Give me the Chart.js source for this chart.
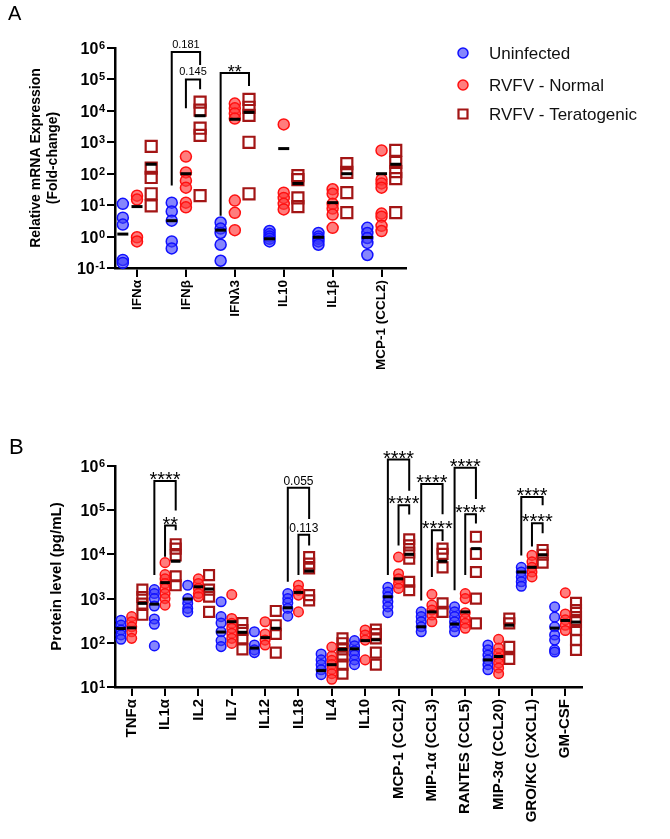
<!DOCTYPE html>
<html><head><meta charset="utf-8">
<script src="https://cdn.jsdelivr.net/npm/chart.js@4.4.0/dist/chart.umd.min.js"></script>
<style>
html,body{margin:0;padding:0;background:#fff;width:670px;height:839px;overflow:hidden}
#ca{position:absolute;left:0;top:0}
#cb{position:absolute;left:0;top:420px}
</style></head><body>
<canvas id="ca" width="670" height="420" style="width:670px;height:420px"></canvas>
<canvas id="cb" width="670" height="419" style="width:670px;height:419px"></canvas>
<script>
// ---------------- Panel A data (mRNA fold-change) ----------------
const catsA = ['IFNα','IFNβ','IFNλ3','IL10','IL1β','MCP-1 (CCL2)'];
const uninfA = [[11,4,2.4,0.18,0.145],[12,6.3,3.2,0.7,0.42],[2.8,1.8,1.3,0.55,0.17],[1.5,1.2,1.0,0.85,0.7],[1.3,1.0,0.85,0.7,0.55],[1.9,1.3,0.9,0.63,0.26]];
const uninfMedA = [1.2,3.2,1.6,0.85,0.95,0.94];
const normalA = [[20,15,0.95,0.7],[350,110,60,36,12,8.5],[17000,12000,8300,5700,14,5.7,1.6],[3700,25,17,11,7.3],[32,23,11,7.8,5,1.9],[550,65,49,36,5.4,4.3,2.2,1.5]];
const normalMedA = [9,100,5400,630,12,100];
const teratoA = [[740,150,76,23,9.5],[19000,10500,2800,1650,20],[23000,13000,7200,1000,23],[87,65,17,9],[210,110,25,5.8],[550,230,117,70,5.8]];
const teratoMedA = [200,7000,9000,49,100,200];
const yExpA = [-1,0,1,2,3,4,5,6];
// brackets: category, group from, group to, top, left-leg end, right-leg end, label
const bracketsA = [
  [1,0,2,7.4e5,42,2.9e5,'0.181'],
  [1,1,2,1.0e5,1.2e4,4.9e4,'0.145'],
  [2,0,2,1.6e5,4.6,6.2e4,'**']
];

// ---------------- Panel B data (protein pg/mL) ----------------
const catsB = ['TNFα','IL1α','IL2','IL7','IL12','IL18','IL4','IL10','MCP-1 (CCL2)','MIP-1α (CCL3)','RANTES (CCL5)','MIP-3α (CCL20)','GRO/KC (CXCL1)','GM-CSF'];
const uninfB = [[324,251,195,151,120],[1600,1300,1000,680,345,262,85],[2000,1000,780,600,500],[850,390,280,178,112,82],[178,89,69,60],[1300,1000,800,600,400],[56,41,32,24.5,19],[112,85,66,53,41,32],[1800,1400,1100,850,650,480],[500,390,300,230,178],[650,500,390,300,230,178],[89,69,53,41,32,24.5],[5100,4000,3100,2400,1900],[650,380,230,150,115,69,62]];
const uninfMedB = [210,750,980,175,76,620,23.5,73,1100,230,265,41,4000,215];
const normalB = [[390,300,230,178,126],[6500,3500,2800,2200,1700,1300,1000,710],[2800,2200,1700,1300,1100],[1230,355,275,213,163,126,97],[300,158,115,89],[2000,1550,1200,500],[80,50,40,32,25,20,15],[195,150,115,41],[8700,3650,2800,2200,1700],[1250,710,550,425,300],[1300,1000,480,355,275,213],[120,76,58,45,35,27,20],[9500,6800,5100,4000,3100],[1350,450,330,250,190]];
const normalMedB = [218,2300,1850,300,131,1380,32,112,2800,500,500,49,5100,320];
const teratoB = [[1600,1090,770,430],[17000,13500,9500,3200,2000],[3400,1600,1100,500],[280,195,126,71],[525,250,158,60],[8700,6200,4800,1200,910],[126,98,71,49,32,20],[200,158,126,60,32],[22000,16000,11000,8000,2400,1550],[13500,10300,5100,780,500],[25000,10300,4000,1000,275],[355,275,81,43],[12600,9800,6500],[800,550,380,295,195,115,69]];
const teratoMedB = [780,7000,1650,173,213,4200,71,117,10000,7000,13500,250,9800,295];
const yExpB = [1,2,3,4,5,6];
const bracketsB = [
  [1,0,2,4.6e5,3400,9.8e4,'****'],
  [1,1,2,4.5e4,8900,3.5e4,'**'],
  [5,0,2,3.2e5,2400,6.3e4,'0.055'],
  [5,1,2,2.8e4,3400,1.6e4,'0.113'],
  [8,0,2,1.4e6,3400,2.75e5,'****'],
  [8,1,2,1.3e5,1.6e4,8.0e4,'****'],
  [9,0,2,3.9e5,910,8.1e4,'****'],
  [9,1,2,3.5e4,3100,2.0e4,'****'],
  [10,0,2,9.1e5,1550,1.8e5,'****'],
  [10,1,2,8.1e4,3400,5.0e4,'****'],
  [12,0,2,2.0e5,9500,1.3e5,'****'],
  [12,1,2,5.1e4,1.5e4,3.0e4,'****']
];

const legendLabels = ['Uninfected','RVFV - Normal','RVFV - Teratogenic'];

// ---------------- rendering ----------------
const FONT = "'Liberation Sans', Arial, Helvetica, sans-serif";
Chart.defaults.font.family = FONT;
Chart.defaults.color = '#000';

const styles = [
  {ps:'circle', bg:'rgba(60,60,250,0.62)', bc:'#1010ff', bw:1.5},
  {ps:'circle', bg:'rgba(255,55,55,0.65)', bc:'#ff1010', bw:1.5},
  {ps:'rect', bg:'rgba(255,255,255,0)', bc:'#a31515', bw:2.2}
];

function makeDatasets(groups, meds, offs, rC, rR, rM) {
  const ds = [];
  const medPts = [];
  meds.forEach((arr, g) => arr.forEach((v, i) => medPts.push({x: i + offs[g], y: v})));
  ds.push({data: medPts, pointStyle:'line', pointRadius: rM, pointBorderWidth: 3,
    pointBorderColor:'#000', pointBackgroundColor:'#000', showLine:false, clip:false});
  groups.forEach((arr, g) => {
    const pts = [];
    arr.forEach((vals, i) => vals.forEach(v => pts.push({x: i + offs[g], y: v})));
    const s = styles[g];
    ds.push({data: pts, pointStyle: s.ps, pointRadius: g === 2 ? rR : rC,
      pointBackgroundColor: s.bg, pointBorderColor: s.bc, pointBorderWidth: s.bw,
      showLine:false, clip:false});
  });
  return ds;
}

function expTicksPlugin(exps, xRight) {
  return {
    id: 'expTicks',
    afterDraw(chart) {
      const ys = chart.scales.y, ctx = chart.ctx;
      ctx.save();
      ctx.fillStyle = '#000';
      ctx.textBaseline = 'alphabetic';
      exps.forEach(e => {
        const y = ys.getPixelForValue(Math.pow(10, e));
        const es = String(e);
        ctx.font = 'bold 11px ' + FONT;
        const ew = ctx.measureText(es).width;
        ctx.textAlign = 'left';
        ctx.fillText(es, xRight - ew, y + 1);
        ctx.font = 'bold 16px ' + FONT;
        ctx.textAlign = 'right';
        ctx.fillText('10', xRight - ew - 0.5, y + 6);
      });
      ctx.restore();
    }
  };
}

function bracketPlugin(list, offs, numFont, starFont, starDy, numDy) {
  return {
    id: 'brackets',
    afterDatasetsDraw(chart) {
      const xs = chart.scales.x, ys = chart.scales.y, ctx = chart.ctx;
      ctx.save();
      ctx.strokeStyle = '#000';
      ctx.lineWidth = 2;
      ctx.fillStyle = '#000';
      ctx.textAlign = 'center';
      ctx.textBaseline = 'alphabetic';
      list.forEach(b => {
        const [c, g1, g2, top, lEnd, rEnd, label] = b;
        const x1 = xs.getPixelForValue(c + offs[g1]);
        const x2 = xs.getPixelForValue(c + offs[g2]);
        const yT = ys.getPixelForValue(top);
        const yL = ys.getPixelForValue(lEnd);
        const yR = ys.getPixelForValue(rEnd);
        ctx.beginPath();
        ctx.moveTo(x1, yL); ctx.lineTo(x1, yT); ctx.lineTo(x2, yT); ctx.lineTo(x2, yR);
        ctx.stroke();
        const isStar = label.indexOf('*') >= 0;
        ctx.font = isStar ? starFont : numFont;
        ctx.fillText(label, (x1 + x2) / 2, isStar ? yT + starDy : yT - numDy);
      });
      ctx.restore();
    }
  };
}

function panelLabelPlugin(text, x, y, size) {
  return {
    id: 'panelLabel',
    afterDraw(chart) {
      const ctx = chart.ctx;
      ctx.save();
      ctx.fillStyle = '#000';
      ctx.font = size + 'px ' + FONT;
      ctx.textAlign = 'left';
      ctx.textBaseline = 'top';
      ctx.fillText(text, x, y);
      ctx.restore();
    }
  };
}

const legendPlugin = {
  id: 'customLegend',
  afterDraw(chart) {
    const ctx = chart.ctx;
    const rows = [53, 85, 114];
    ctx.save();
    legendLabels.forEach((t, i) => {
      const s = styles[i];
      const cx = 463, cy = rows[i];
      ctx.beginPath();
      if (s.ps === 'circle') {
        ctx.arc(cx, cy, 5, 0, Math.PI * 2);
        ctx.fillStyle = s.bg; ctx.fill();
        ctx.lineWidth = 1.5; ctx.strokeStyle = s.bc; ctx.stroke();
      } else {
        ctx.rect(cx - 4.5, cy - 4.5, 9, 9);
        ctx.lineWidth = 2.2; ctx.strokeStyle = s.bc; ctx.stroke();
      }
      ctx.fillStyle = '#111';
      ctx.font = '17px ' + FONT;
      ctx.textAlign = 'left';
      ctx.textBaseline = 'middle';
      ctx.fillText(t, 489, cy + 1);
    });
    ctx.restore();
  }
};

function makeChart(canvasId, cfg) {
  const offs = cfg.offs;
  return new Chart(document.getElementById(canvasId), {
    type: 'scatter',
    data: { datasets: makeDatasets(cfg.groups, cfg.meds, offs, cfg.rC, cfg.rR, cfg.rM) },
    options: {
      responsive: false,
      animation: false,
      events: [],
      layout: { padding: cfg.padding },
      plugins: { legend: { display: false }, tooltip: { enabled: false } },
      scales: {
        x: {
          type: 'linear',
          min: cfg.xMin, max: cfg.cats.length - 0.5,
          afterBuildTicks: (s) => { s.ticks = cfg.cats.map((_, i) => ({ value: i })); },
          afterFit: (s) => { s.height = 140; },
          grid: { display: true, drawOnChartArea: false, drawTicks: true, tickLength: 9, color: '#000', lineWidth: 2 },
          border: { display: true, color: '#000', width: 2.5 },
          ticks: {
            autoSkip: false, minRotation: 90, maxRotation: 90, padding: 3,
            font: { size: cfg.xFont, weight: 'bold' }, color: '#000',
            callback: (v) => cfg.cats[v]
          }
        },
        y: {
          type: 'logarithmic',
          min: Math.pow(10, cfg.exps[0]), max: Math.pow(10, cfg.exps[cfg.exps.length - 1]),
          afterBuildTicks: (s) => { s.ticks = cfg.exps.map(e => ({ value: Math.pow(10, e) })); },
          afterFit: (s) => { s.width = cfg.yWidth; },
          grid: { display: true, drawOnChartArea: false, drawTicks: true, tickLength: 8, color: '#000', lineWidth: 2 },
          border: { display: true, color: '#000', width: 2.5 },
          ticks: { callback: () => '', padding: 0 },
          title: {
            display: true, text: cfg.yTitle, color: '#000',
            font: { size: cfg.yTitleSize, weight: 'bold', lineHeight: 1.25 },
            padding: { top: cfg.yTitlePad, bottom: 0 }
          }
        }
      }
    },
    plugins: cfg.plugins
  });
}

const offsA = [-0.29, 0, 0.29];
makeChart('ca', {
  cats: catsA, groups: [uninfA, normalA, teratoA], meds: [uninfMedA, normalMedA, teratoMedA],
  offs: offsA, rC: 5.5, rR: 7.8, rM: 5.5, xMin: -0.45, exps: yExpA,
  padding: { left: 0, top: 48, right: 264, bottom: 12 }, yWidth: 115, xFont: 13.5,
  yTitle: ['Relative mRNA Expression', '(Fold-change)'], yTitleSize: 14, yTitlePad: 27,
  plugins: [expTicksPlugin(yExpA, 105), bracketPlugin(bracketsA, offsA, '11px ' + FONT, '18px ' + FONT, 5, 4),
            panelLabelPlugin('A', 8, 4, 20), legendPlugin]
});

const offsB = [-0.32, 0, 0.32];
makeChart('cb', {
  cats: catsB, groups: [uninfB, normalB, teratoB], meds: [uninfMedB, normalMedB, teratoMedB],
  offs: offsB, rC: 4.8, rR: 7, rM: 4.8, xMin: -0.5, exps: yExpB,
  padding: { left: 0, top: 46, right: 88, bottom: 12 }, yWidth: 115, xFont: 15,
  yTitle: 'Protein level (pg/mL)', yTitleSize: 15, yTitlePad: 47,
  plugins: [expTicksPlugin(yExpB, 105), bracketPlugin(bracketsB, offsB, '12px ' + FONT, '20px ' + FONT, 5, 3),
            panelLabelPlugin('B', 9, 17, 22)]
});
</script>
</body></html>
